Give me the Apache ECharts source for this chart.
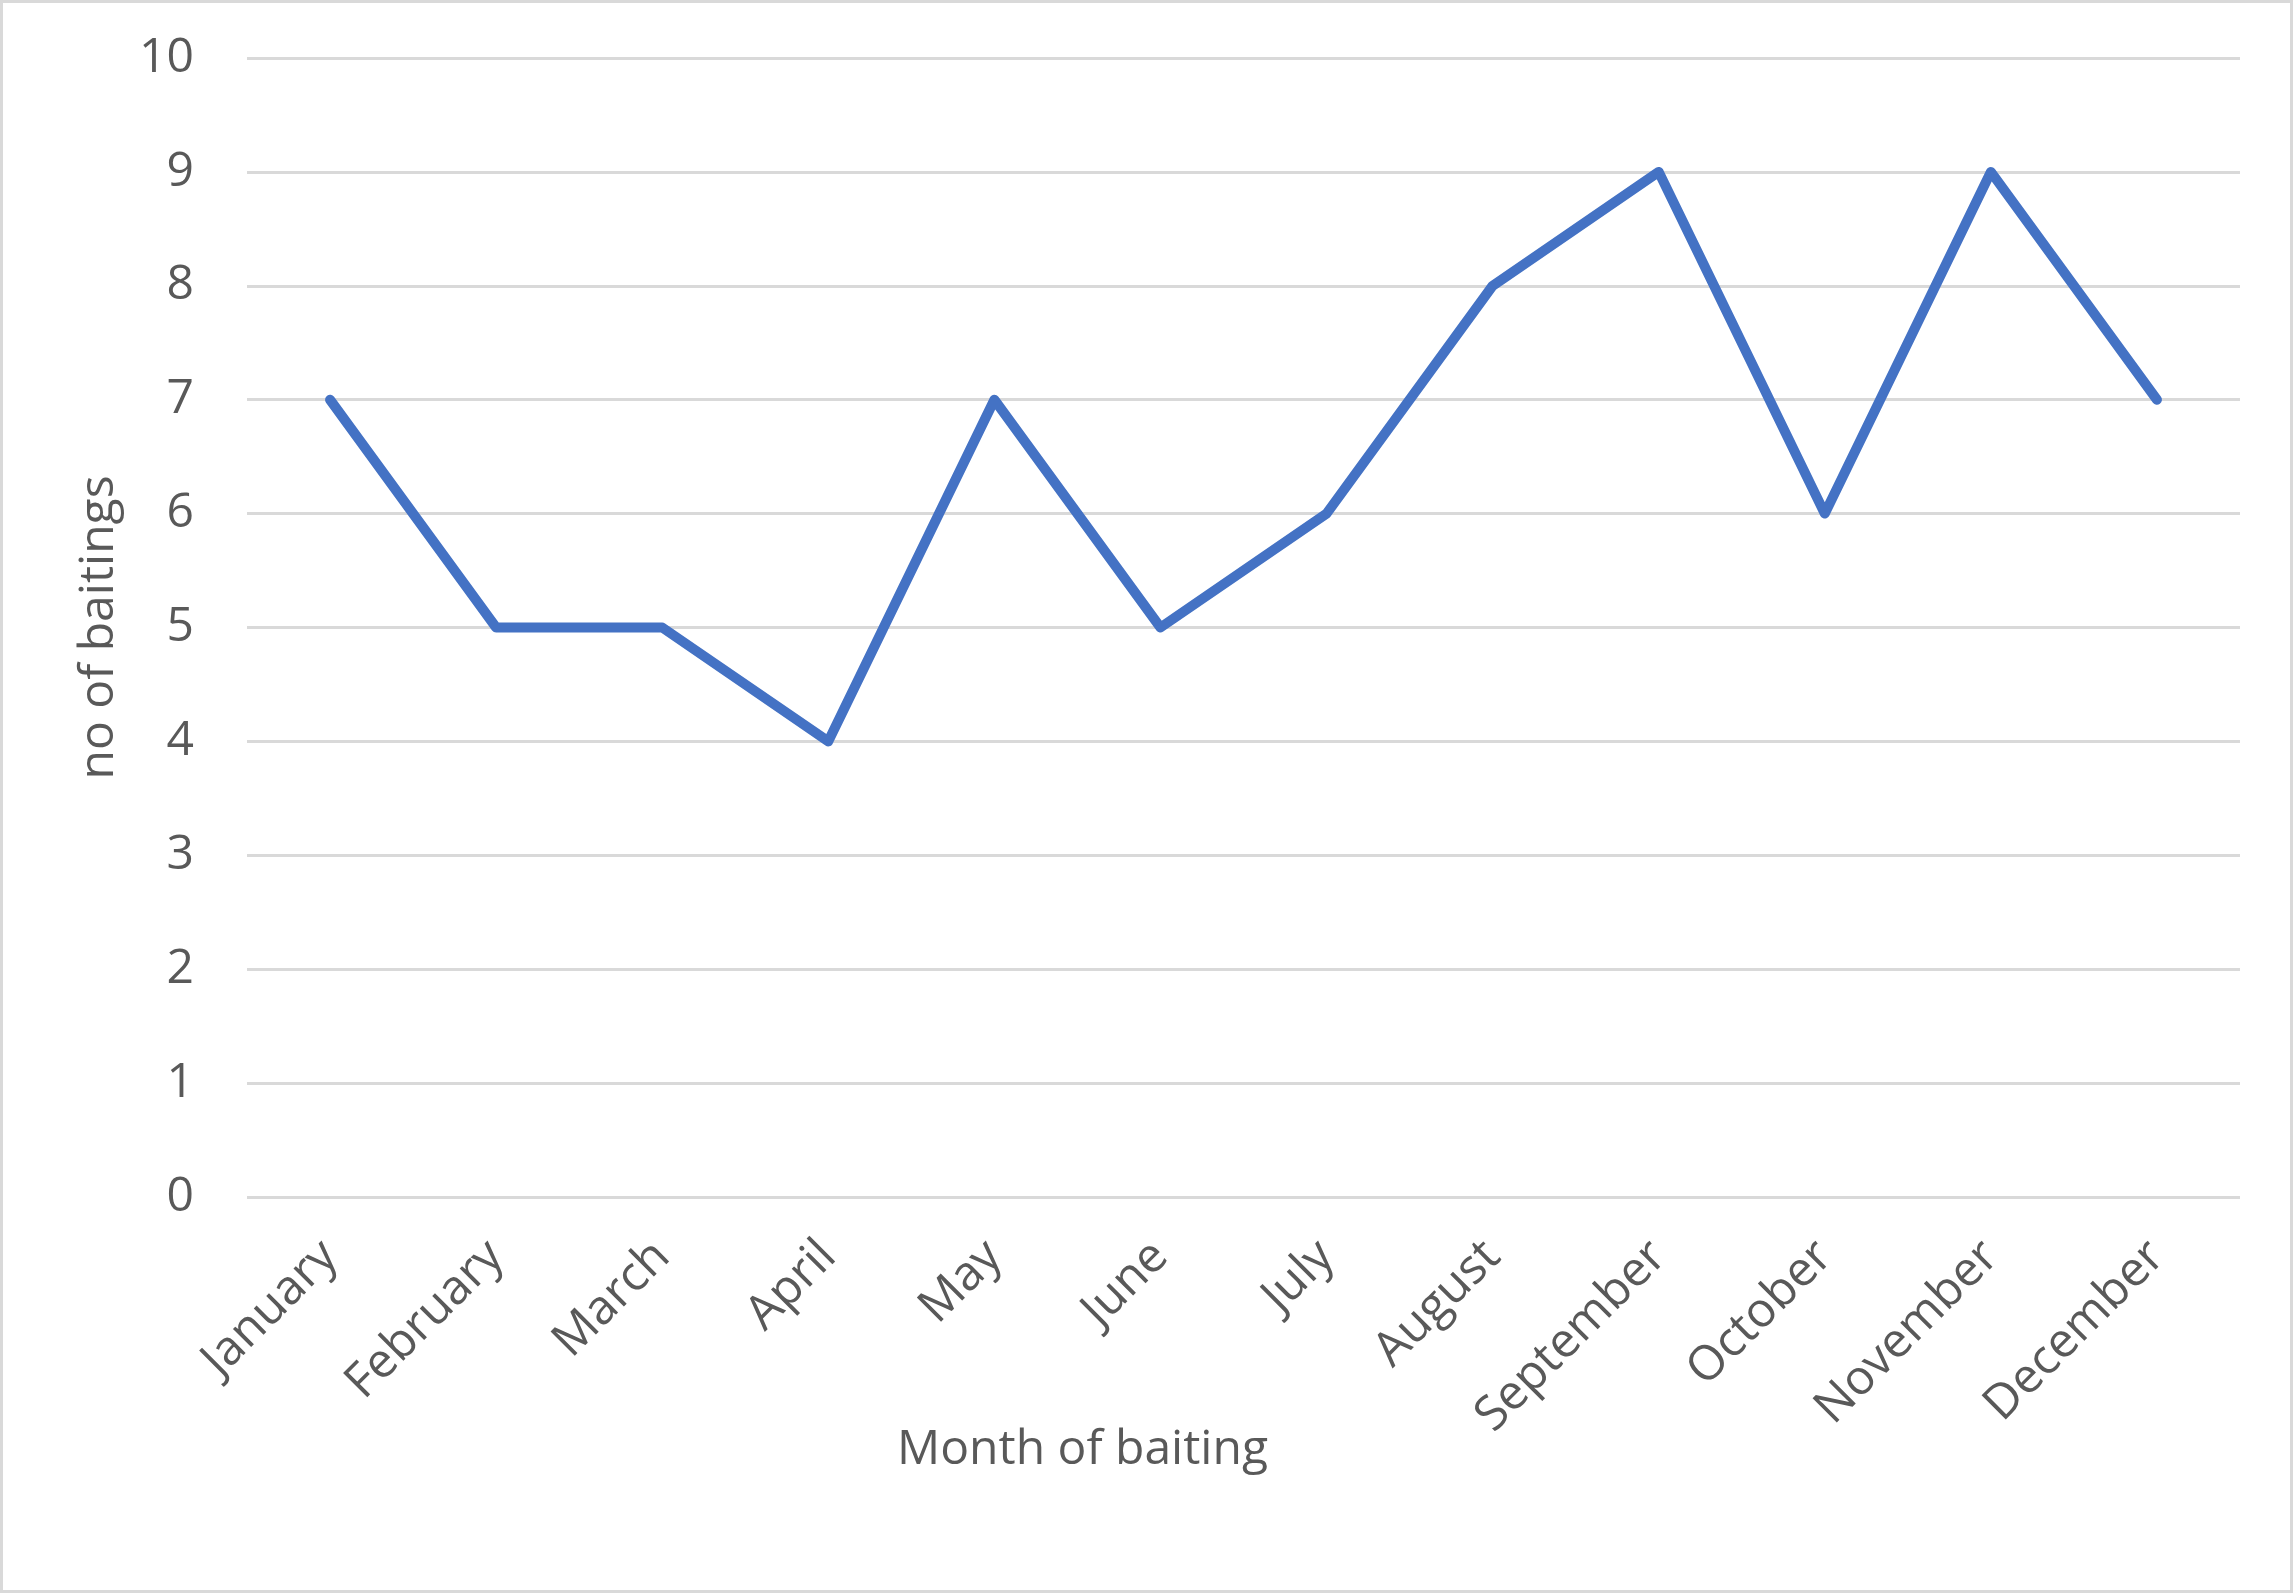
<!DOCTYPE html>
<html>
<head>
<meta charset="utf-8">
<title>Month of baiting</title>
<script src="https://cdn.jsdelivr.net/npm/echarts@6/dist/echarts.min.js"></script>
<style>
    html, body { margin: 0; padding: 0; background: #fff; }
    #main {
        width: 2293px; height: 1593px;
        box-sizing: border-box;
        border: 3px solid #d9d9d9;
    }
</style>
</head>
<body>
<div id="main"></div>
<script>
var months = ['January', 'February', 'March', 'April', 'May', 'June',
    'July', 'August', 'September', 'October', 'November', 'December'];
var baitings = [7, 5, 5, 4, 7, 5, 6, 8, 9, 6, 9, 7];
var yTicks = { min: 0, max: 10, step: 1 };

var textColor = '#595959';
var fontName = 'Open Sans';

var chart = echarts.init(document.getElementById('main'));
var option = {
    animation: false,
    grid: {
        left: 244,
        right: 50,
        top: 55,
        bottom: 393
    },
    xAxis: {
        type: 'category',
        data: months,
        boundaryGap: true,
        name: 'Month of baiting',
        nameLocation: 'middle',
        nameGap: 229,
        nameMoveOverlap: false,
        nameTextStyle: {
            color: textColor,
            fontFamily: fontName,
            fontSize: 48,
            padding: [0, 322, 0, 0]
        },
        axisLine: { show: false },
        axisTick: { show: false },
        axisLabel: {
            rotate: 45,
            interval: 0,
            margin: 52,
            color: textColor,
            fontFamily: fontName,
            fontSize: 48
        }
    },
    yAxis: {
        type: 'value',
        min: yTicks.min,
        max: yTicks.max,
        interval: yTicks.step,
        name: 'no of baitings',
        nameLocation: 'middle',
        nameGap: 124,
        nameMoveOverlap: false,
        nameTextStyle: {
            color: textColor,
            fontFamily: fontName,
            fontSize: 48
        },
        axisLine: { show: false },
        axisTick: { show: false },
        axisLabel: {
            margin: 53,
            color: textColor,
            fontFamily: fontName,
            fontSize: 48
        },
        splitLine: {
            lineStyle: { color: '#d9d9d9', width: 3 }
        }
    },
    series: [{
        type: 'line',
        data: baitings,
        symbol: 'none',
        lineStyle: {
            color: '#4472c4',
            width: 10,
            cap: 'round',
            join: 'round'
        }
    }]
};
chart.setOption(option);
</script>
</body>
</html>
